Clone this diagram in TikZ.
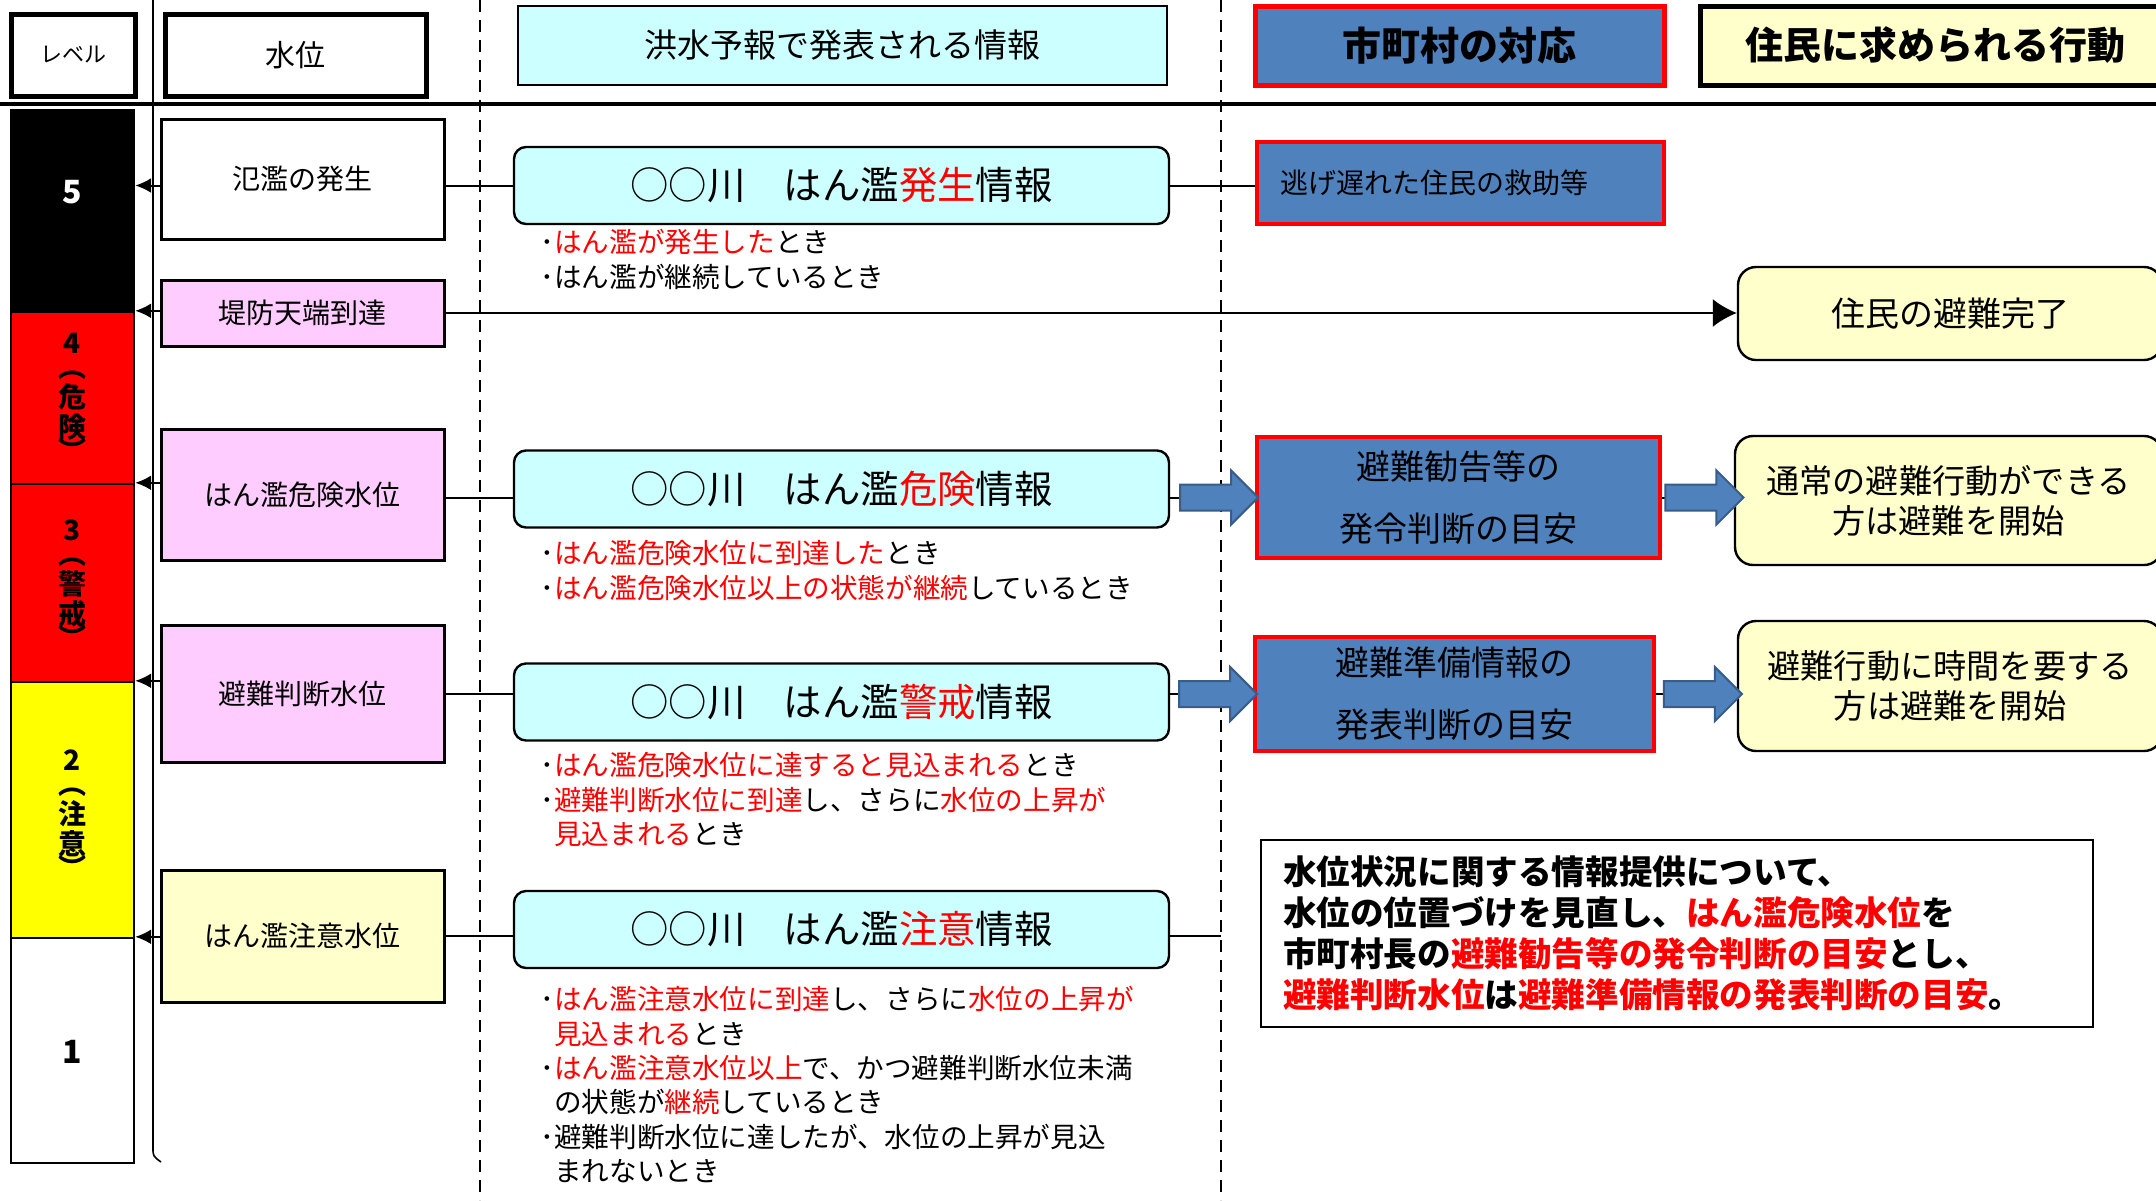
\documentclass[tikz,border=0pt]{standalone}
\usepackage{fontspec}
\setmainfont{Noto Sans CJK JP}
\usetikzlibrary{arrows.meta,shapes.arrows,calc}

\definecolor{cyanbox}{HTML}{CCFFFF}
\definecolor{bluebox}{HTML}{4F81BD}
\definecolor{bluedark}{HTML}{385D8A}
\definecolor{pinkbox}{HTML}{FFCCFF}
\definecolor{ylwbox}{HTML}{FFFFCC}
\definecolor{lvyellow}{HTML}{FFFF00}
\newcommand{\rtx}[1]{\textcolor{red}{#1}}

\begin{document}
\begin{tikzpicture}
  [x=0.5pt,y=-0.5pt,
  hdbox/.style={draw,line width=2.5pt,minimum height=41pt,font=\fontsize{15}{18}\selectfont},
  lvbar/.style={draw,line width=1.2pt,minimum width=61.5pt,inner sep=0pt},
  lvtext/.style={inner sep=0pt,align=center,font=\bfseries\fontsize{14}{15}\selectfont},
  wlbox/.style={draw,line width=1.5pt,minimum width=141.5pt,font=\fontsize{14}{17}\selectfont},
  infobox/.style={draw,line width=1.2pt,rounded corners=6pt,fill=cyanbox,minimum width=327.5pt,minimum height=38.5pt,font=\fontsize{19.2}{23}\selectfont},
  bullets/.style={anchor=north west,inner sep=0pt,align=left,font=\fontsize{13.8}{17.2}\selectfont},
  citybox/.style={draw=red,line width=2pt,fill=bluebox,align=center,font=\fontsize{17}{31}\selectfont},
  resbox/.style={draw,line width=1.2pt,rounded corners=9pt,fill=ylwbox,align=center,font=\fontsize{16.6}{20}\selectfont},
  fatarrow/.style={single arrow,draw=bluedark,line width=1pt,fill=bluebox,minimum height=39pt,inner xsep=0pt,inner ysep=6pt,single arrow head extend=7pt},
  link/.style={line width=1pt},
  lvarrow/.style={line width=1pt,-{Latex[length=8pt,width=7.5pt]}}
  ]
  \useasboundingbox (0,0) rectangle (2156,1200);
  \fill[white] (0,0) rectangle (2156,1200);

  % header row
  \node[hdbox,minimum width=62pt,font=\fontsize{11}{13}\selectfont] (hlv) at (73,55) {レベル};
  \node[hdbox,minimum width=130.5pt] (hwl) at (295.5,55) {水位};
  \node[hdbox,line width=1pt,fill=cyanbox,minimum width=324.5pt,minimum height=39.5pt,font=\fontsize{16.5}{20}\selectfont] (hinfo) at (842.5,45.5) {洪水予報で発表される情報};
  \node[hdbox,draw=red,fill=bluebox,minimum width=204.5pt,minimum height=39.5pt,font=\bfseries\fontsize{19.5}{23}\selectfont] (hcity) at (1459.5,45.5) {市町村の対応};
  \node[hdbox,fill=ylwbox,minimum width=235pt,minimum height=39.5pt,font=\bfseries\fontsize{19}{23}\selectfont] (hres) at (1935,45.5) {住民に求められる行動};

  % rules
  \draw[line width=2pt] (0,104) -- (2156,104);
  \draw[line width=0.8pt] (153,0) -- (153,1148) .. controls (153,1156) .. (161,1162);
  \draw[line width=1pt,dash pattern=on 6pt off 4pt] (480,0) -- (480,1200);
  \draw[line width=1pt,dash pattern=on 6pt off 4pt] (1221,0) -- (1221,1200);

  % levels
  \node[lvbar,fill=black,minimum height=101pt] (lv5) at (72.5,211) {};
  \node[lvbar,fill=red,minimum height=86pt] (lv4) at (72.5,398) {};
  \node[lvbar,fill=red,minimum height=99pt] (lv3) at (72.5,583) {};
  \node[lvbar,fill=lvyellow,minimum height=128pt] (lv2) at (72.5,810) {};
  \node[lvbar,fill=white,minimum height=112.5pt] (lv1) at (72.5,1050.5) {};
  \node[lvtext,text=white,font=\bfseries\fontsize{16}{16}\selectfont] (n5) at (72.5,192) {5};
  \node[lvtext] (n4) at (72.5,397) {4\\[-3pt]︵\\危\\険\\[-3pt]︶};
  \node[lvtext] (n3) at (72.5,584) {3\\[-3pt]︵\\警\\戒\\[-3pt]︶};
  \node[lvtext] (n2) at (72.5,814) {2\\[-3pt]︵\\注\\意\\[-3pt]︶};
  \node[lvtext,font=\bfseries\fontsize{16}{16}\selectfont] (n1) at (72.5,1052) {1};

  % water levels
  \node[wlbox,minimum height=60pt] (wl5) at (302.5,179) {氾濫の発生};
  \node[wlbox,fill=pinkbox,minimum height=33pt] (wl4) at (302.5,313) {堤防天端到達};
  \node[wlbox,fill=pinkbox,minimum height=65.5pt] (wl3) at (302.5,494.5) {はん濫危険水位};
  \node[wlbox,fill=pinkbox,minimum height=68.5pt] (wl2) at (302.5,693.5) {避難判断水位};
  \node[wlbox,fill=ylwbox,minimum height=66pt] (wl1) at (302.5,936) {はん濫注意水位};

  % flood forecast
  \node[infobox] (info5) at (841.5,185.5) {○○川　はん濫\rtx{発生}情報};
  \node[infobox] (info3) at (841.5,489) {○○川　はん濫\rtx{危険}情報};
  \node[infobox] (info2) at (841.5,702) {○○川　はん濫\rtx{警戒}情報};
  \node[infobox] (info1) at (841.5,929.5) {○○川　はん濫\rtx{注意}情報};

  \node[bullets] (t5) at (540,229) {･\rtx{はん濫が発生した}とき\\･はん濫が継続しているとき};
  \node[bullets] (t3) at (540,540) {･\rtx{はん濫危険水位に到達した}とき\\･\rtx{はん濫危険水位以上の状態が継続}しているとき};
  \node[bullets] (t2) at (540,752) {･\rtx{はん濫危険水位に達すると見込まれる}とき\\･\rtx{避難判断水位に到達}し、さらに\rtx{水位の上昇が}\\\phantom{･}\rtx{見込まれる}とき};
  \node[bullets] (t1) at (540,986) {･\rtx{はん濫注意水位に到達}し、さらに\rtx{水位の上昇が}\\\phantom{･}\rtx{見込まれる}とき\\･\rtx{はん濫注意水位以上}で、かつ避難判断水位未満\\\phantom{･}の状態が\rtx{継続}しているとき\\･避難判断水位に達したが、水位の上昇が見込\\\phantom{･}まれないとき};

  % municipality
  \node[citybox,minimum width=203.5pt,minimum height=41pt,text width=180pt,align=left,font=\fontsize{14}{17}\selectfont] (city5) at (1460.5,183) {逃げ遅れた住民の救助等};
  \node[citybox,minimum width=201.5pt,minimum height=60.5pt] (city3) at (1458.5,497.5) {避難勧告等の\\発令判断の目安};
  \node[citybox,minimum width=199.5pt,minimum height=57pt] (city2) at (1454.5,694) {避難準備情報の\\発表判断の目安};

  % residents
  \node[resbox,minimum width=212pt,minimum height=46.5pt,font=\fontsize{17}{20}\selectfont] (res5) at (1950,313.5) {住民の避難完了};
  \node[resbox,minimum width=213.5pt,minimum height=64.5pt] (res3) at (1948.5,500.5) {通常の避難行動ができる\\方は避難を開始};
  \node[resbox,minimum width=212pt,minimum height=65pt] (res2) at (1950,686) {避難行動に時間を要する\\方は避難を開始};

  % note
  \node[draw,line width=1pt,minimum width=416pt,minimum height=93.5pt,text width=394pt,align=left,font=\bfseries\fontsize{16.8}{20.5}\selectfont] (memo) at (1677,933.5) {水位状況に関する情報提供について、\\水位の位置づけを見直し、\rtx{はん濫危険水位}を\\市町村長の\rtx{避難勧告等の発令判断の目安}とし、\\\rtx{避難判断水位}は\rtx{避難準備情報の発表判断の目安}。};

  % connectors
  \draw[link] (wl5.east |- info5) -- (info5.west);
  \draw[link] (info5.east) -- (city5.west |- info5);
  \draw[link,-{Latex[length=12pt,width=14pt]}] (wl4.east) -- (res5.west |- wl4);
  \draw[link] (wl3.east |- city3) -- (info3.west |- city3);
  \draw[link] (info3.east |- city3) -- (city3.west);
  \draw[link] (city3.east) -- (res3.west |- city3);
  \draw[link] (wl2.east) -- (info2.west |- wl2);
  \draw[link] (info2.east |- city2) -- (city2.west);
  \draw[link] (city2.east) -- (res2.west |- city2);
  \coordinate (c1) at (1221,936);
  \draw[link] (wl1.east) -- (info1.west |- wl1);
  \draw[link] (info1.east |- wl1) -- (c1);

  \node[fatarrow] (a3l) at ($(info3.east |- city3)!0.5!(city3.west)$) {};
  \node[fatarrow] (a3r) at ($(city3.east)!0.5!(res3.west |- city3)$) {};
  \node[fatarrow] (a2l) at ($(info2.east |- city2)!0.5!(city2.west)$) {};
  \node[fatarrow] (a2r) at ($(city2.east)!0.5!(res2.west |- city2)$) {};

  % arrows to the level bar
  \draw[lvarrow] (wl5.west |- info5) -- (lv5.east |- info5);
  \draw[lvarrow] (wl4.west |- lv4.north east) -- (lv4.north east);
  \draw[lvarrow] (wl3.west |- lv3.north east) -- (lv3.north east);
  \draw[lvarrow] (wl2.west |- lv2.north east) -- (lv2.north east);
  \draw[lvarrow] (wl1.west |- lv1.north east) -- (lv1.north east);
\end{tikzpicture}
\end{document}
